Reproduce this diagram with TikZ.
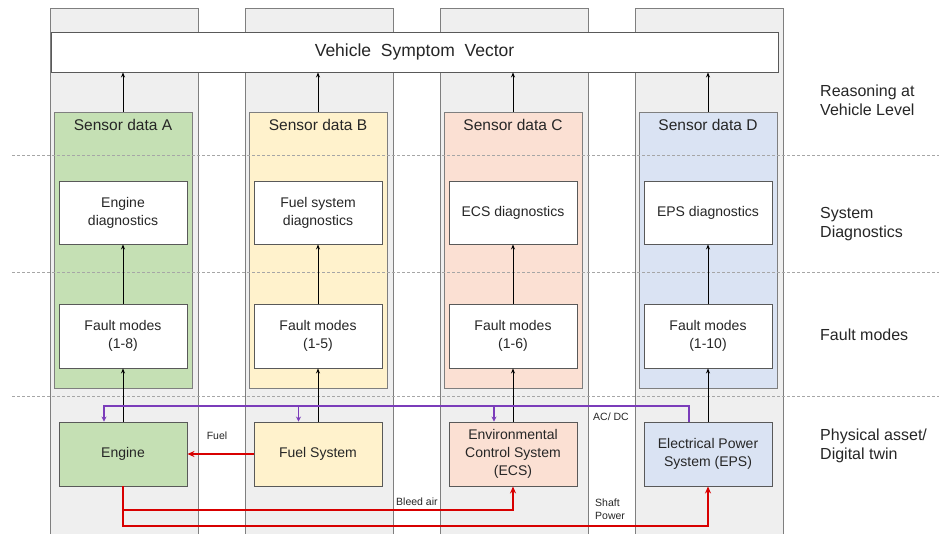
\documentclass[tikz,border=0pt]{standalone}
\usepackage{fontspec}
\setmainfont{Liberation Sans}
\usetikzlibrary{arrows.meta}
\definecolor{lanefill}{HTML}{EFEFEF}
\definecolor{laneline}{HTML}{7F7F7F}
\definecolor{boxline}{HTML}{595959}
\definecolor{txt}{HTML}{262626}
\definecolor{greenA}{HTML}{C5E0B4}
\definecolor{yellowB}{HTML}{FFF2CC}
\definecolor{pinkC}{HTML}{FBE0D3}
\definecolor{blueD}{HTML}{DAE3F3}
\definecolor{flowred}{HTML}{D80000}
\definecolor{busviolet}{HTML}{7B3CBA}
\definecolor{sepgray}{HTML}{A6A6A6}
\tikzset{
  lane/.style={draw=laneline, fill=lanefill, line width=0.9pt, minimum width=148pt, minimum height=535pt, inner sep=0pt},
  sensorbox/.style={draw=laneline, line width=0.9pt, minimum width=138pt, minimum height=276pt, inner sep=0pt},
  whitebox/.style={draw=boxline, fill=white, line width=0.9pt, minimum width=128pt, minimum height=63pt, inner sep=0pt, align=center, text=txt, font=\fontsize{14}{18}\selectfont},
  assetbox/.style={whitebox, minimum height=64pt},
  sensortitle/.style={text=txt, font=\fontsize{15.5}{18}\selectfont, inner sep=0pt, anchor=north},
  rowlabel/.style={text=txt, font=\fontsize{16}{19}\selectfont, align=left, anchor=west, inner sep=0pt},
  small/.style={text=txt, font=\fontsize{10.5}{13}\selectfont, inner sep=0pt},
  sep/.style={draw=sepgray, line width=0.8pt, dash pattern=on 3pt off 2pt},
  up/.style={draw=black, line width=0.8pt, -{Stealth[length=5pt,width=4pt]}},
  flow/.style={draw=flowred, line width=2pt, -{Stealth[length=7pt,width=6pt]}},
  bus/.style={draw=busviolet, line width=1.4pt},
  busdrop/.style={bus, -{Stealth[length=5pt,width=5pt]}},
}
\begin{document}
\begin{tikzpicture}[x=1pt, y=-1pt]
\useasboundingbox (0,0) rectangle (939,534);
\fill[white] (0,0) rectangle (939,534);

% vertical lanes, one per subsystem
\node[lane] (laneA) at (124,275.5) {};
\node[lane] (laneB) at (319,275.5) {};
\node[lane] (laneC) at (514,275.5) {};
\node[lane] (laneD) at (709,275.5) {};

% vehicle level
\node[whitebox, minimum width=727pt, minimum height=40pt, font=\fontsize{17.5}{20}\selectfont] (vec) at (414.5,52) {Vehicle \ Symptom \ Vector};

% sensor data panels
\node[sensorbox, fill=greenA]  (sA) at (123,250) {};
\node[sensorbox, fill=yellowB] (sB) at (318,250) {};
\node[sensorbox, fill=pinkC]   (sC) at (513,250) {};
\node[sensorbox, fill=blueD]   (sD) at (708,250) {};
\node[sensortitle] (tA) at ([yshift=-8pt]sA.north) {Sensor data A};
\node[sensortitle] (tB) at ([yshift=-8pt]sB.north) {Sensor data B};
\node[sensortitle] (tC) at ([yshift=-8pt]sC.north) {Sensor data C};
\node[sensortitle] (tD) at ([yshift=-8pt]sD.north) {Sensor data D};

% level separators
\draw[sep] (12,155) -- (939,155);
\draw[sep] (12,272.5) -- (939,272.5);
\draw[sep] (12,396) -- (939,396);

% system diagnostics
\node[whitebox] (dA) at (123,212.5) {Engine\\diagnostics};
\node[whitebox] (dB) at (318,212.5) {Fuel system\\diagnostics};
\node[whitebox] (dC) at (513,212.5) {ECS diagnostics};
\node[whitebox] (dD) at (708,212.5) {EPS diagnostics};

% fault modes
\node[whitebox, minimum height=64pt] (fA) at (123,336) {Fault modes\\(1-8)};
\node[whitebox, minimum height=64pt] (fB) at (318,336) {Fault modes\\(1-5)};
\node[whitebox, minimum height=64pt] (fC) at (513,336) {Fault modes\\(1-6)};
\node[whitebox, minimum height=64pt] (fD) at (708,336) {Fault modes\\(1-10)};

% physical assets
\node[assetbox, fill=greenA]  (eng)  at (123,454) {Engine};
\node[assetbox, fill=yellowB] (fuel) at (318,454) {Fuel System};
\node[assetbox, fill=pinkC]   (ecs)  at (513,454) {Environmental\\Control System\\(ECS)};
\node[assetbox, fill=blueD]   (eps)  at (708,454) {Electrical Power\\System (EPS)};

% upward data flow
\foreach \c in {A,B,C,D} {
  \draw[up] (s\c.north) -- (s\c.north |- vec.south);
  \draw[up] (f\c.north) -- (d\c.south);
}
\draw[up] (eng.north) -- (fA.south);
\draw[up] (fuel.north) -- (fB.south);
\draw[up] (ecs.north) -- (fC.south);
\draw[up] (eps.north) -- (fD.south);

% electrical bus (AC/DC)
\coordinate (busE) at ([xshift=-19pt]eng.north);
\draw[busdrop] ([xshift=-19pt]eps.north) -- ++(0,-15.5) -| (busE);
\draw[busdrop] ([xshift=-19.5pt]fuel.north) ++(0,-15.5) -- ([xshift=-19.5pt]fuel.north);
\draw[busdrop] ([xshift=-19pt]ecs.north) ++(0,-15.5) -- ([xshift=-19pt]ecs.north);

% energy flows
\draw[flow] (fuel.west) -- (eng.east);
\draw[flow] (eng.south) -- ++(0,24) -| (ecs.south);
\draw[flow] (eng.south) -- ++(0,39.5) -| (eps.south);

% flow labels
\node[small] (lfuel) at (217,436) {Fuel};
\node[small, anchor=west] (lbleed) at (396,502) {Bleed air};
\node[small] (lacdc) at (611,417) {AC/ DC};
\node[small, anchor=west, align=left] (lshaft) at (595,509.5) {Shaft\\Power};

% level names
\node[rowlabel] (r1) at (820,100.5) {Reasoning at\\Vehicle Level};
\node[rowlabel] (r2) at (820,224.5) {System\\Diagnostics};
\node[rowlabel] (r3) at (820,335) {Fault modes};
\node[rowlabel] (r4) at (820,446) {Physical asset/\\Digital twin};
\end{tikzpicture}
\end{document}
